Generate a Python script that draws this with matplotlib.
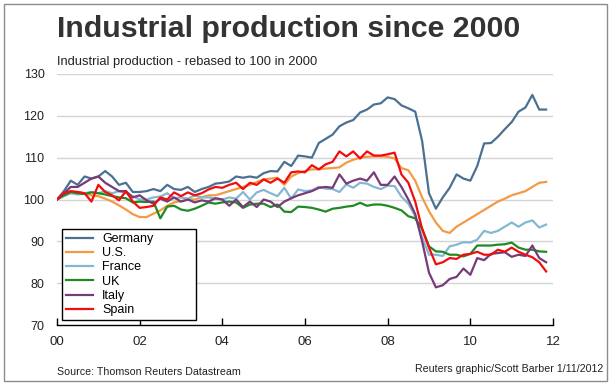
import numpy as np
import matplotlib
matplotlib.use("Agg")
from matplotlib import pyplot as plt
from matplotlib.patches import Rectangle

# bimonthly readings, Jan 2000 onwards, rebased 2000 = 100
germany = [100, 102, 104.5, 103.5, 105.5, 105, 105.5, 106.8, 105.5, 103.5,
           104, 101.8, 101.8, 102, 102.5, 102, 103.5, 102.5, 102.3, 103,
           101.8, 102.5, 103, 103.8, 104, 104.3, 105.5, 105.2, 105.5, 105.2,
           106.3, 106.8, 106.7, 109, 108, 110.5, 110.3, 110, 113.5, 114.5,
           115.5, 117.5, 118.4, 119, 120.8, 121.5, 122.7, 123, 124.4, 124,
           122.5, 121.8, 121, 114, 101.5, 97.8, 100.5, 102.8, 106, 105,
           104.5, 108, 113.4, 113.5, 115, 116.8, 118.5, 121, 122, 125,
           121.5, 121.5]
us = [100, 101, 101.5, 101.8, 101.5, 101, 100.8, 100.2, 99.5, 98.6,
      97.6, 96.5, 95.8, 95.8, 96.6, 97.4, 98.5, 99.3, 99.6, 100,
      100, 100.5, 101, 101, 101.5, 102, 102.5, 103, 103.5, 104.2,
      104.8, 105, 105.2, 103.5, 105.5, 106.3, 106.8, 107.2, 107.2, 107.4,
      107.5, 107.7, 108.8, 109.5, 110, 110.2, 110.3, 110.3, 110.2, 109.8,
      107.5, 107, 104.5, 100.5, 97.2, 94.5, 92.5, 92, 93.5, 94.5,
      95.5, 96.5, 97.5, 98.5, 99.5, 100.2, 101, 101.5, 102, 103,
      104, 104.2]
france = [100, 100.8, 101.5, 101.2, 101.5, 101.8, 101.5, 102, 101.5, 102,
          101.5, 100.8, 100, 100, 100.5, 100.7, 101.5, 100.3, 100.5, 100.2,
          101, 100.5, 100.5, 100.2, 100, 100.5, 100.2, 101.8, 100, 101.7,
          102.3, 101.5, 100.8, 102.8, 100.2, 102.4, 102, 102.2, 103, 102.6,
          102.5, 101.8, 103.6, 102.8, 104, 103.8, 103, 102.5, 103.3, 103.2,
          100.7, 99, 96, 91, 86.8, 86.8, 86.5, 88.8, 89.2, 89.8,
          89.7, 90.4, 92.5, 92, 92.5, 93.5, 94.5, 93.5, 94.5, 95,
          93.3, 94]
uk = [100, 101, 101.8, 101.5, 101.3, 101.7, 101.5, 101.2, 100.8, 100.5,
      100.3, 99.3, 99.5, 99.4, 99.5, 95.5, 98.3, 98.5, 97.6, 97.3,
      97.8, 98.5, 99.3, 99, 99.3, 99.5, 99.3, 98, 98.8, 99,
      99, 98.2, 98.8, 97.1, 97, 98.3, 98.2, 98, 97.6, 97.1,
      97.8, 98, 98.3, 98.5, 99.2, 98.5, 98.8, 98.8, 98.5, 98,
      97.4, 96, 95.5, 93, 88.8, 87.6, 87.5, 86.8, 86.8, 86.4,
      87, 89, 89, 89, 89.2, 89.3, 89.7, 88.5, 88, 88,
      87.6, 87.5]
italy = [100, 101.5, 103, 103, 104, 105, 105.5, 104, 103, 102,
         102, 100.5, 101, 99.8, 99, 100.2, 99.5, 100.5, 99.5, 100,
         99.3, 99.8, 99.5, 100.3, 100, 98.5, 100, 98.2, 99.5, 98.2,
         100, 99.5, 98.2, 99.5, 100.3, 101, 101.5, 102, 102.8, 103,
         102.8, 106, 103.8, 104.5, 105, 104.5, 106.5, 103.5, 103.5, 105.5,
         103, 100, 96.5, 90, 82.5, 79, 79.5, 81, 81.5, 83.5,
         82, 86, 85.5, 87, 87.2, 87.4, 86.3, 86.8, 86.5, 89,
         86, 85]
spain = [100, 101.5, 102, 101.8, 101.5, 99.5, 103.5, 101.8, 101, 99.8,
         102, 99.5, 98, 98.2, 98.5, 100.5, 100, 101.7, 100.8, 101.7,
         101, 101.5, 102.4, 103, 102.8, 103.5, 104, 102.5, 104, 103.5,
         104.8, 104, 105, 104, 106.5, 106.7, 106.5, 108.2, 107.2, 108.4,
         109, 111.5, 110.3, 111.5, 109.8, 111.5, 110.5, 110.5, 110.8, 111.2,
         106, 104, 99.5, 93, 88.5, 84.5, 85, 86, 85.8, 86.8,
         87, 87.5, 86.8, 86.8, 88, 87.5, 88.5, 87.5, 86.8, 86.2,
         85, 82.8]

names = ["Germany", "U.S.", "France", "UK", "Italy", "Spain"]
colors = ["#4a7192", "#f39a45", "#86b7d2", "#1f8a24", "#763b78", "#f20c0c"]
series = [germany, us, france, uk, italy, spain]

years = np.arange(len(germany)) / 6.0
xtick_pos = [0, 2, 4, 6, 8, 10, 12]
xtick_labels = ["00", "02", "04", "06", "08", "10", "12"]
yticks = [70, 80, 90, 100, 110, 120, 130]

plt.rcParams['font.family'] = ['Liberation Sans', 'DejaVu Sans']

fig = plt.figure(figsize=(6.11, 3.86), dpi=100)
ax = fig.add_axes([57/611, 61/386, 496/611, 251/386])

for name, vals, col in zip(names, series, colors):
    ax.plot(years, vals, color=col, lw=1.6, label=name)

ax.set_xlim(0, 12)
ax.set_ylim(70, 130)
ax.set_yticks(yticks)
ax.set_xticks(xtick_pos)
ax.set_xticklabels(xtick_labels)
for y in yticks[1:]:
    ax.axhline(y, color="#d4d4d4", lw=1, zorder=0)

for s in ["top", "right", "left"]:
    ax.spines[s].set_visible(False)
ax.spines["bottom"].set_color("black")
ax.spines["bottom"].set_linewidth(1)
ax.tick_params(axis="y", length=0, pad=9, labelsize=9, labelcolor="#222222")
ax.tick_params(axis="x", direction="in", length=5, width=1, pad=8,
               labelsize=9.5, labelcolor="#222222")

leg = ax.legend(loc="lower left", bbox_to_anchor=(0.0101, 0.02, 0.27, 0.36),
                mode="expand", borderaxespad=0, fontsize=9, handlelength=2.2,
                handletextpad=0.7, labelspacing=0.18, borderpad=0.3,
                fancybox=False, framealpha=1)
leg.get_frame().set_edgecolor("black")
leg.get_frame().set_linewidth(1)

fig.text(57/611, 1 - 36.7/386, "Industrial production since 2000", fontsize=21.8,
         fontweight="bold", color="#333333", va="baseline", ha="left")
fig.text(57/611, 1 - 65/386, "Industrial production - rebased to 100 in 2000",
         fontsize=9.3, color="#222222", va="baseline", ha="left")
fig.text(57/611, 1 - 375/386, "Source: Thomson Reuters Datastream",
         fontsize=7.7, color="#222222", va="baseline", ha="left")
fig.text(603/611, 1 - 372/386, "Reuters graphic/Scott Barber 1/11/2012",
         fontsize=7.7, color="#222222", va="baseline", ha="right")

fig.patches.append(Rectangle((4/611, 5/386), 603/611, 377/386, transform=fig.transFigure,
                             fill=False, edgecolor="#8c8c8c", lw=1))

fig.savefig("out.png", dpi=100)
